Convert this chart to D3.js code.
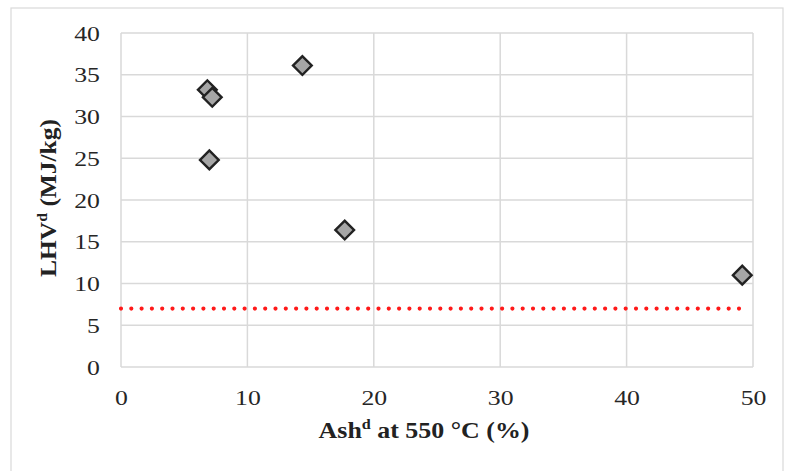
<!DOCTYPE html>
<html><head><meta charset="utf-8">
<script src="https://cdn.jsdelivr.net/npm/d3@7"></script>
<style>body{margin:0;background:#fff;} svg{display:block;} text{font-family:"Liberation Serif","DejaVu Serif",serif;}</style>
</head><body>
<svg id="c" width="788" height="471"></svg>
<script>
const ashValues = [6.83, 7.22, 6.99, 14.35, 17.7, 49.15];
const lhvValues = [33.2, 32.3, 24.8, 36.1, 16.4, 11.0];
const thresholdValue = 7;
const thresholdXRange = [0, 49.4];
const xTicks = [0, 10, 20, 30, 40, 50];
const yTicks = [0, 5, 10, 15, 20, 25, 30, 35, 40];

const svg = d3.select("#c");
const m = {l:121, r:753, t:33, b:367};
const x = d3.scaleLinear().domain([0,50]).range([m.l, m.r]);
const y = d3.scaleLinear().domain([0,40]).range([m.b, m.t]);
const font = '"Liberation Serif", "DejaVu Serif", serif';
const sx = 1.17; // horizontal stretch of the reference text

// outer border
svg.append("rect").attr("x",11).attr("y",8).attr("width",772).attr("height",470)
  .attr("fill","none").attr("stroke","#d9d9d9").attr("stroke-width",1.2);

// grid
svg.append("g").selectAll("line").data(xTicks).join("line")
  .attr("x1",d=>x(d)).attr("x2",d=>x(d)).attr("y1",m.t).attr("y2",m.b)
  .attr("stroke","#d9d9d9").attr("stroke-width",1.5);
svg.append("g").selectAll("line").data(yTicks).join("line")
  .attr("x1",m.l).attr("x2",m.r).attr("y1",d=>y(d)).attr("y2",d=>y(d))
  .attr("stroke","#d9d9d9").attr("stroke-width",1.5);

// axes labels via d3 axes
const xAxis = svg.append("g").attr("transform",`translate(0,${m.b})`)
  .call(d3.axisBottom(x).tickValues(xTicks).tickSize(0).tickPadding(22));
xAxis.attr("font-family",null);
xAxis.select(".domain").remove();
xAxis.selectAll("text").style("font-family",font).style("font-size","22px").attr("fill","#262626")
  .attr("transform",`scale(${sx},1)`);

const yAxis = svg.append("g").attr("transform",`translate(${m.l},0)`)
  .call(d3.axisLeft(y).tickValues(yTicks).tickSize(0).tickPadding(18));
yAxis.attr("font-family",null);
yAxis.select(".domain").remove();
yAxis.selectAll("text").style("font-family",font).style("font-size","22px").attr("fill","#262626")
  .attr("transform",`scale(${sx},1)`);

// threshold dotted line
svg.append("line")
  .attr("x1",x(thresholdXRange[0])).attr("x2",x(thresholdXRange[1]))
  .attr("y1",y(thresholdValue)).attr("y2",y(thresholdValue))
  .attr("stroke","#ff1a1a").attr("stroke-width",4.2).attr("stroke-linecap","round")
  .attr("stroke-dasharray","0 10.3");

// points
const diamond = d3.symbol().type(d3.symbolSquare).size(175);
svg.append("g").selectAll("path").data(ashValues.map((a,i)=>[a,lhvValues[i]])).join("path")
  .attr("d",diamond)
  .attr("transform",d=>`translate(${x(d[0])},${y(d[1])}) rotate(45)`)
  .attr("fill","#a6a6a6").attr("stroke","#222").attr("stroke-width",2.4);

// axis titles
const xt = svg.append("text").attr("transform","translate(424,438) scale(1.08,1)").attr("text-anchor","middle")
  .style("font-family",font).style("font-size","24px").attr("font-weight","bold").attr("fill","#222");
xt.append("tspan").text("Ash");
xt.append("tspan").attr("dy",-9).style("font-size","15px").text("d");
xt.append("tspan").attr("dy",9).text(" at 550 °C (%)");

const yt = svg.append("text").attr("transform","translate(56,198) rotate(-90) scale(1.06,1)").attr("text-anchor","middle")
  .style("font-family",font).style("font-size","24px").attr("font-weight","bold").attr("fill","#222");
yt.append("tspan").text("LHV");
yt.append("tspan").attr("dy",-9).style("font-size","15px").text("d");
yt.append("tspan").attr("dy",9).text(" (MJ/kg)");
</script>
</body></html>
